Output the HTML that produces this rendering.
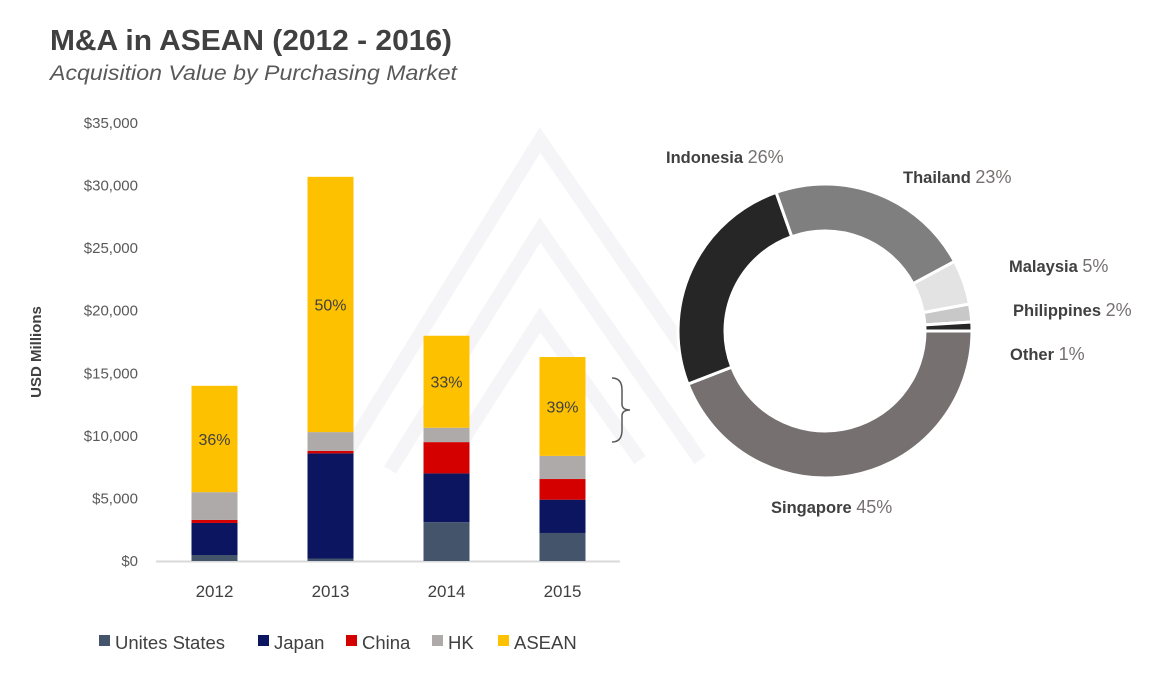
<!DOCTYPE html>
<html><head><meta charset="utf-8"><style>
body{margin:0;background:#fff;font-family:"Liberation Sans",sans-serif;}
#wrap{position:relative;width:1163px;height:682px;overflow:hidden;}
</style></head><body>
<div id="wrap">
<svg id="svg" width="1163" height="682" xmlns="http://www.w3.org/2000/svg" font-family="Liberation Sans, sans-serif">
<g stroke="#f5f5f7" stroke-width="14" fill="none">
<path d="M330,480 L540,140 L760,460"/><path d="M390,470 L540,230 L700,460"/><path d="M450,460 L540,320 L640,460"/>
</g>
<text x="50" y="50" font-size="29" font-weight="bold" fill="#404040" textLength="402" lengthAdjust="spacingAndGlyphs">M&amp;A in ASEAN (2012 - 2016)</text>
<text x="50" y="80" font-size="21" font-style="italic" fill="#595959" textLength="407" lengthAdjust="spacingAndGlyphs">Acquisition Value by Purchasing Market</text>
<text transform="translate(41,352) rotate(-90)" text-anchor="middle" font-size="15" font-weight="bold" fill="#404040">USD Millions</text>
<g id="bars"></g>
<path d="M612,378 Q622,378 622,390 L622,404 Q622,410 630,410 Q622,410 622,416 L622,430 Q622,442 612,442" stroke="#595959" stroke-width="1.5" fill="none"/>
<g id="donut"></g>
<g id="legend"></g>
</svg>
</div>
<script>
const years=["2012","2013","2014","2015"];
const seriesNames=["Unites States","Japan","China","HK","ASEAN"];
const us=[0.48,0.2,3.1,2.24];
const japan=[2.56,8.4,3.9,2.66];
const china=[0.24,0.2,2.5,1.65];
const hk=[2.22,1.5,1.15,1.85];
const asean=[8.5,20.4,7.35,7.9];
const aseanPct=["36%","50%","33%","39%"];
const yTicks=[0,5,10,15,20,25,30,35];
const colors=["#44546a","#0b1560","#d40000","#aeaaaa","#fdc100"];
const slices=["Singapore","Indonesia","Thailand","Malaysia","Philippines","Other"];
const sliceVals=[45,26,23,5,2,1];
const sliceColors=["#767070","#262626","#7f7f7f","#e3e3e3","#c8c8c8","#262626"];
const NS="http://www.w3.org/2000/svg";
function mk(tag,attrs,parent){const e=document.createElementNS(NS,tag);for(const k in attrs)e.setAttribute(k,attrs[k]);parent.appendChild(e);return e;}
const y=v=>561-v*12.514;
const xC=i=>214.5+i*116;
const bars=document.getElementById('bars');
yTicks.forEach(t=>{
  const tx=mk('text',{x:138,y:y(t)+5,'text-anchor':'end','font-size':15,fill:'#595959'},bars);
  tx.textContent="$"+(t===0?"0":t+",000");
  
  
});
const ax=mk('line',{x1:156,x2:620,y1:561.5,y2:561.5,stroke:'#d9d9d9','stroke-width':2},bars);


const series=[us,japan,china,hk,asean];
years.forEach((yr,i)=>{
  let base=0;
  series.forEach((s,j)=>{
    const r=mk('rect',{x:xC(i)-23,width:46,y:y(base+s[i]),height:y(base)-y(base+s[i]),fill:colors[j]},bars);
    
    
    if(j===4){
      const t=mk('text',{x:xC(i),y:(y(base)+y(base+s[i]))/2+6,'text-anchor':'middle','font-size':16,fill:'#404040'},bars);
      t.textContent=aseanPct[i];
      
      
    }
    base+=s[i];
  });
  const xl=mk('text',{x:xC(i),y:597,'text-anchor':'middle','font-size':17,fill:'#404040'},bars);
  xl.textContent=yr;
  
  
});
const leg=document.getElementById('legend');
const lx=[99,258,346,432,498];
seriesNames.forEach((n,j)=>{
  const r=mk('rect',{x:lx[j],y:635,width:11,height:11,fill:colors[j]},leg);
  
  
  const t=mk('text',{x:lx[j]+16,y:649,'font-size':18.5,fill:'#404040'},leg);
  t.textContent=n;
  
  
});
const dn=document.getElementById('donut');
const cx=825,cy=331,R=147,r0=100;
const tot=sliceVals.reduce((a,b)=>a+b,0);
let a=0;
sliceVals.forEach((v,i)=>{
  const a1=a,a2=a+v/tot*2*Math.PI;a=a2;
  const p=(rr,t)=>[cx+rr*Math.cos(t),cy+rr*Math.sin(t)];
  const L=(a2-a1)>Math.PI?1:0;
  const [x1,y1]=p(R,a1),[x2,y2]=p(R,a2),[x3,y3]=p(r0,a2),[x4,y4]=p(r0,a1);
  const path=mk('path',{d:`M${x1},${y1} A${R},${R} 0 ${L} 1 ${x2},${y2} L${x3},${y3} A${r0},${r0} 0 ${L} 0 ${x4},${y4} Z`,fill:sliceColors[i],stroke:'#fff','stroke-width':3},dn);
  
  
});
const labPos=[[771,513],[666,163],[903,183],[1009,272],[1013,316],[1010,360]];
slices.forEach((n,i)=>{
  const t=mk('text',{x:labPos[i][0],y:labPos[i][1],'font-size':16.5},dn);
  const s1=mk('tspan',{'font-weight':'bold',fill:'#404040'},t);s1.textContent=n+" ";
  const s2=mk('tspan',{fill:'#767171','font-size':18},t);s2.textContent=sliceVals[i]+"%";
  
  
});
</script>
</body></html>
